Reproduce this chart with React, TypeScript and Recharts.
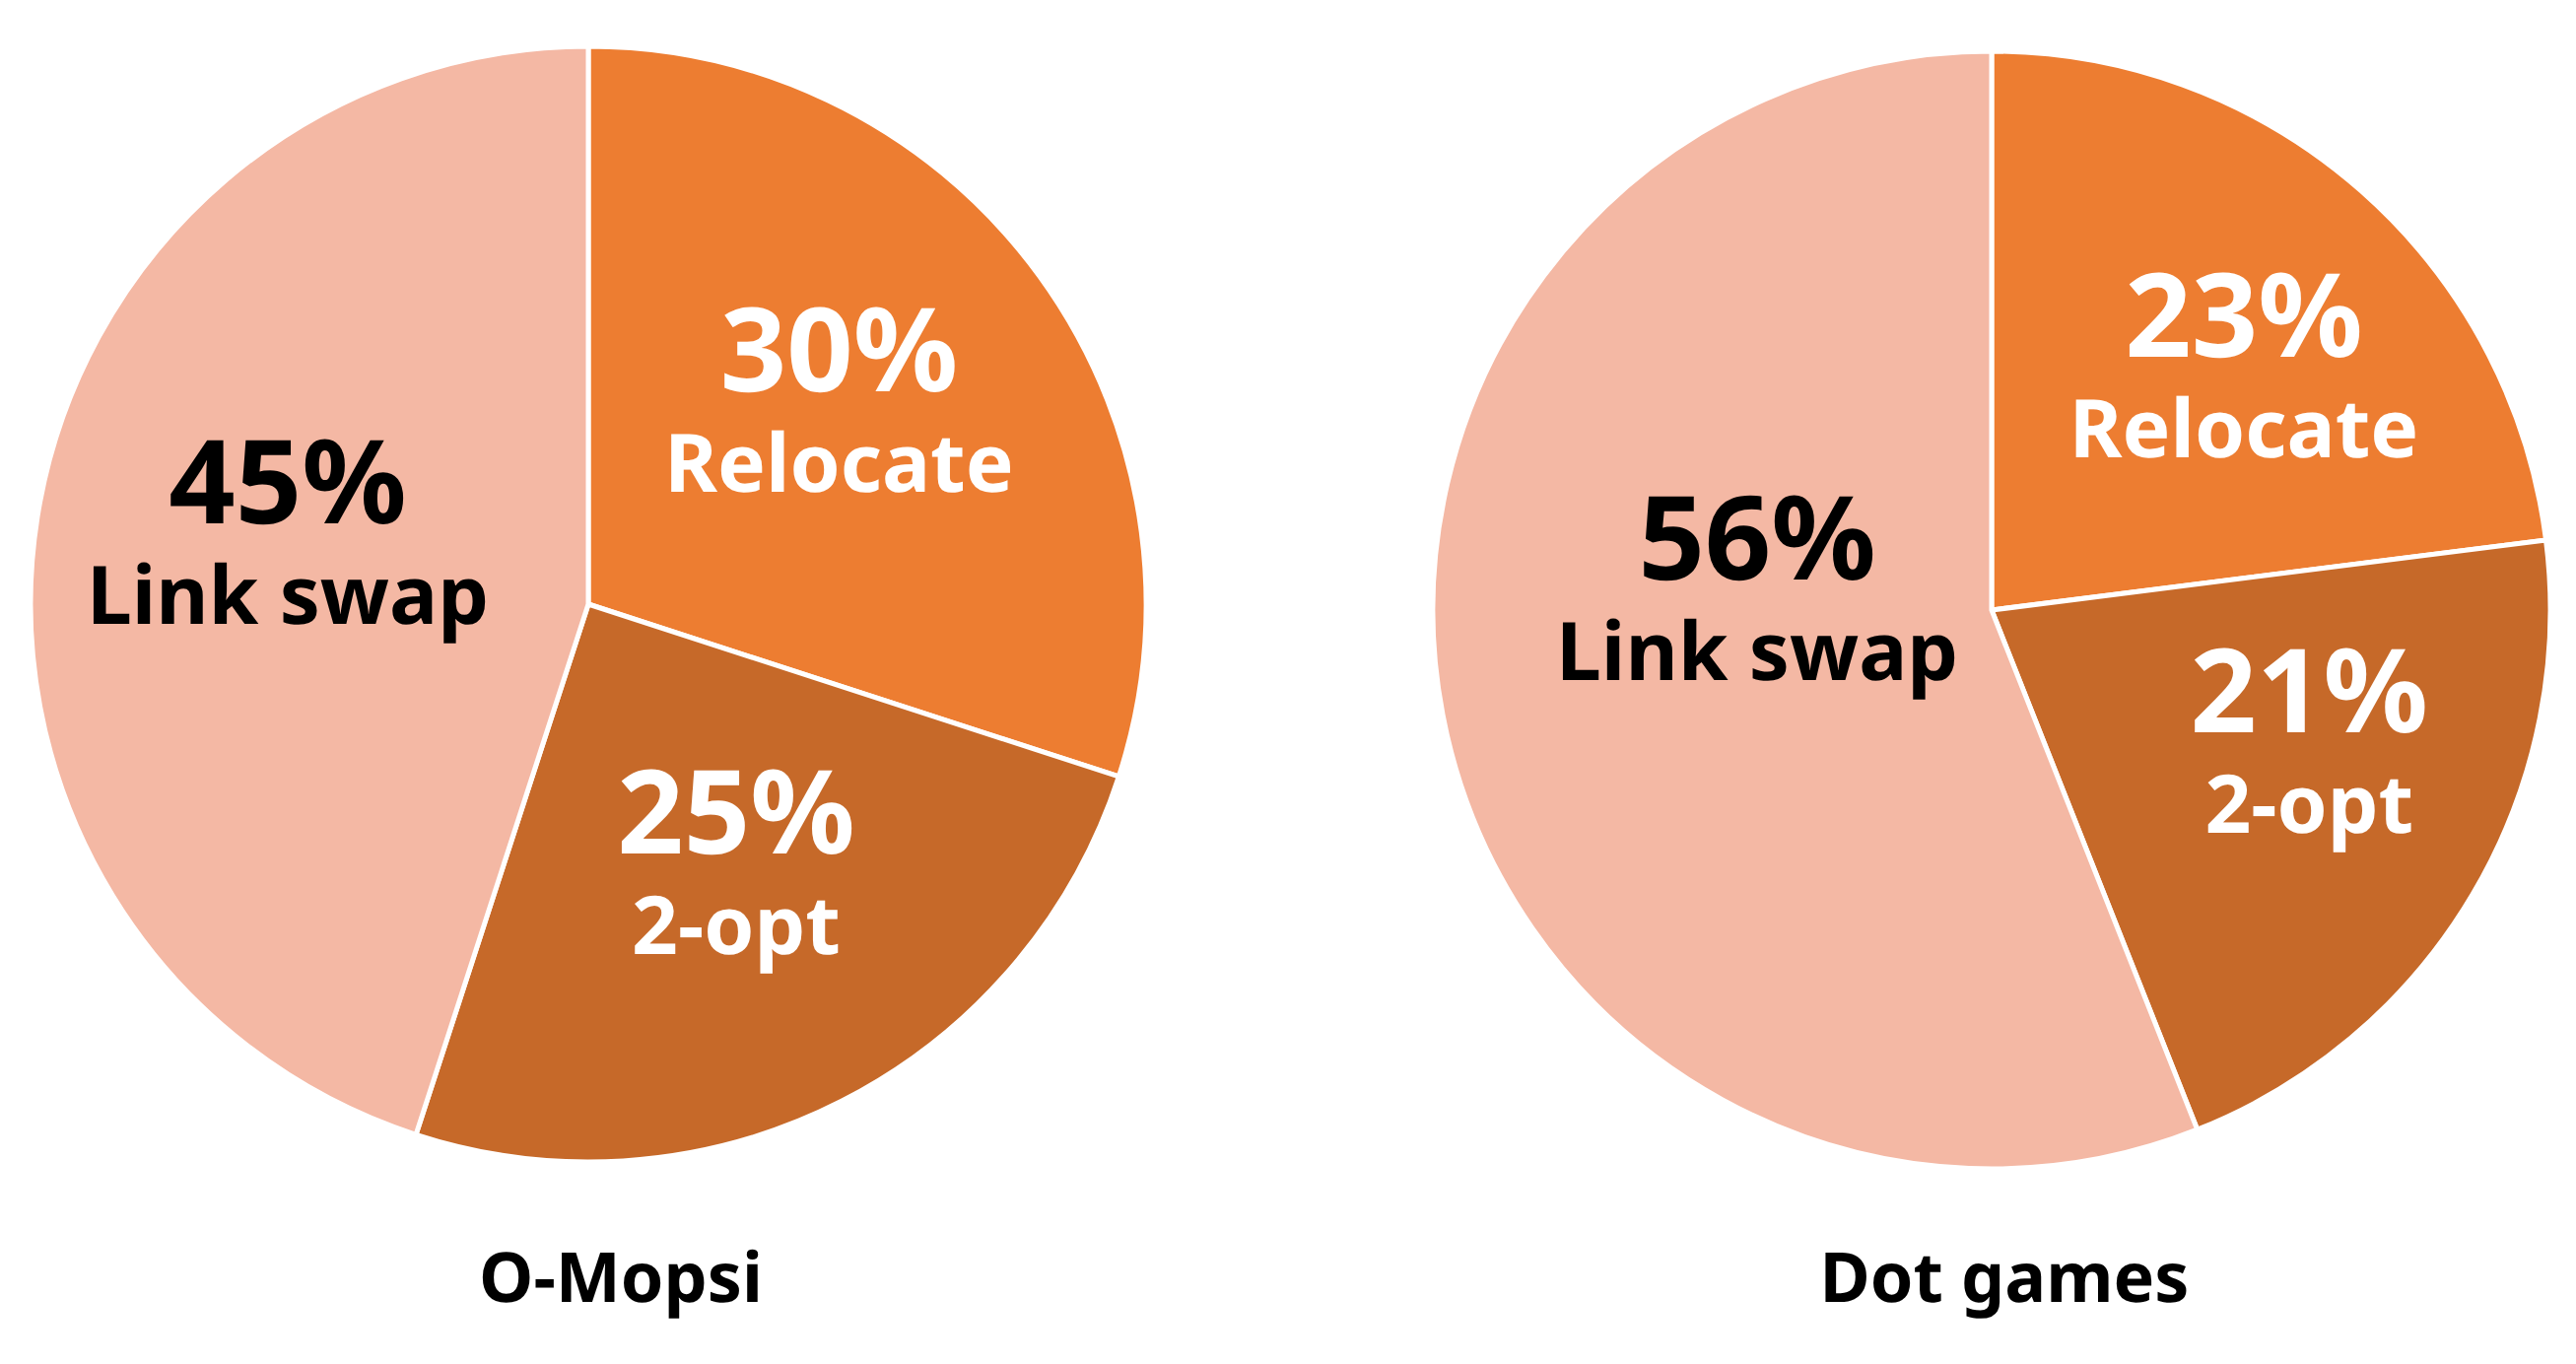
import React from 'react';
import { PieChart, Pie, Cell } from 'recharts';

// shares, clockwise from 12 o'clock
const categories = ['Relocate', '2-opt', 'Link swap'];
const oMopsiShares = [30, 25, 45];
const dotGamesShares = [23, 21, 56];
const chartTitles = ['O-Mopsi', 'Dot games'];

const sliceColors = ['#ED7D31', '#C66929', '#F4B8A4'];
const labelColors = ['#ffffff', '#ffffff', '#000000'];

const RADIAN = Math.PI / 180;
const FONT = '"Noto Sans", "Open Sans", sans-serif';

// small per-slice nudges so labels sit where the original chart put them
const labelNudges: Record<string, [number, number][]> = {
  left: [[-2, -22], [6, -21], [8, -24]],
  right: [[46, -11], [49, -30], [74, -82]],
};

const toRows = (shares: number[]) =>
  categories.map((name, i) => ({ name, value: shares[i] }));

const makeLabel = (side: string) => (props: any) => {
  const { cx, cy, midAngle, outerRadius, index, name, value } = props;
  const r = outerRadius * 0.56;
  const [dx, dy] = labelNudges[side][index] || [0, 0];
  const x = cx + r * Math.cos(-midAngle * RADIAN) + dx;
  const y = cy + r * Math.sin(-midAngle * RADIAN) + dy;
  return (
    <text textAnchor="middle" fill={labelColors[index]} fontFamily={FONT}
      fontWeight={700} style={{ textRendering: 'geometricPrecision' }}>
      <tspan x={x} y={y - 8} fontSize={118}>{`${value}%`}</tspan>
      <tspan x={x} y={y + 94} fontSize={82}>{name}</tspan>
    </text>
  );
};

const titleStyle: React.CSSProperties = {
  position: 'absolute',
  top: 1258,
  width: 600,
  textAlign: 'center',
  fontFamily: FONT,
  fontWeight: 700,
  fontSize: 70,
  lineHeight: '72px',
  color: '#000',
  textRendering: 'geometricPrecision',
};

export default function App() {
  return (
    <div style={{ position: 'absolute', left: 0, top: 0, width: 2614, height: 1384, background: '#fff' }}>
      <PieChart width={2614} height={1384}>
        <Pie
          data={toRows(oMopsiShares)}
          dataKey="value"
          nameKey="name"
          cx={592}
          cy={608}
          outerRadius={566}
          startAngle={90}
          endAngle={-270}
          stroke="#ffffff"
          strokeWidth={5}
          label={makeLabel('left')}
          labelLine={false}
          isAnimationActive={false}
        >
          {categories.map((c, i) => (
            <Cell key={`l-${c}`} fill={sliceColors[i]} />
          ))}
        </Pie>
        <Pie
          data={toRows(dotGamesShares)}
          dataKey="value"
          nameKey="name"
          cx={2016}
          cy={614}
          outerRadius={567}
          startAngle={90}
          endAngle={-270}
          stroke="#ffffff"
          strokeWidth={5}
          label={makeLabel('right')}
          labelLine={false}
          isAnimationActive={false}
        >
          {categories.map((c, i) => (
            <Cell key={`r-${c}`} fill={sliceColors[i]} />
          ))}
        </Pie>
      </PieChart>
      <div style={{ ...titleStyle, left: 630 - 300 }}>{chartTitles[0]}</div>
      <div style={{ ...titleStyle, left: 2034 - 300 }}>{chartTitles[1]}</div>
    </div>
  );
}
